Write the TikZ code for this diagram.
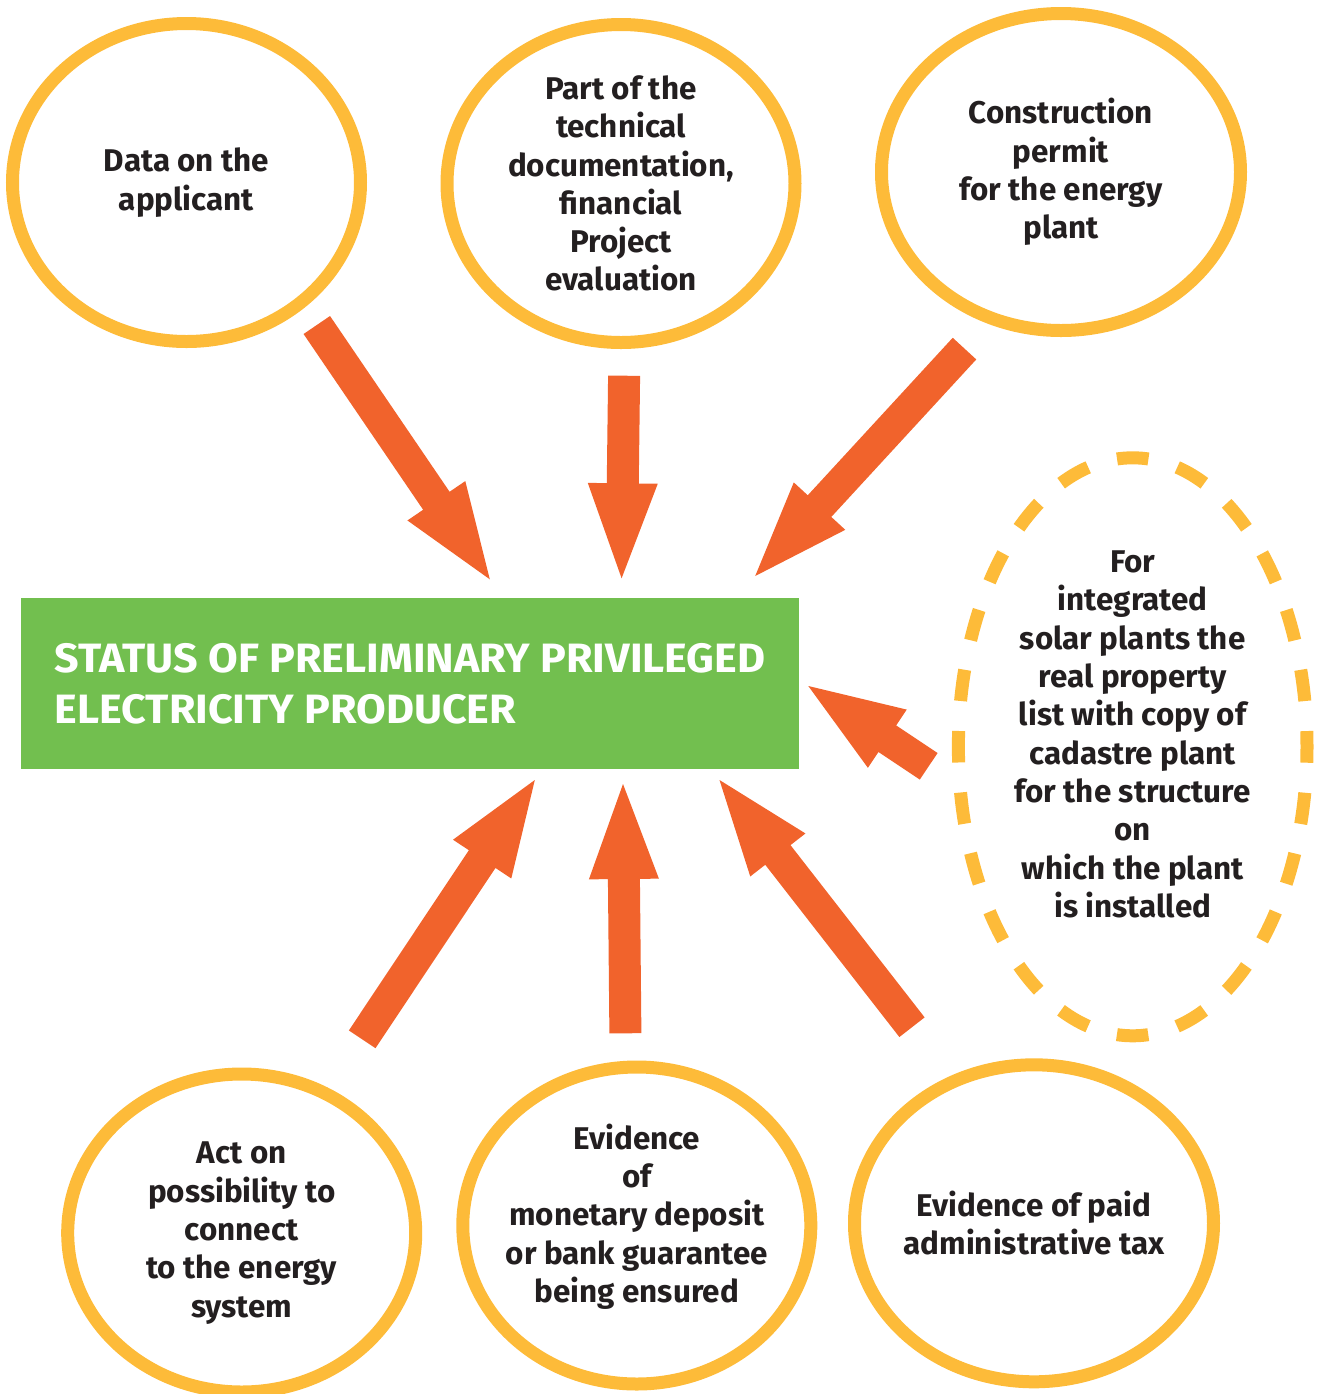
\documentclass[tikz,border=0pt]{standalone}
\usepackage{fontspec}
\setmainfont{Fira Sans}
\newfontfamily\titlefont[FakeStretch=1.05]{Fira Sans}
\usetikzlibrary{shapes.geometric, calc}
\definecolor{ringYellow}{RGB}{253,187,57}
\definecolor{arrOrange}{RGB}{241,99,44}
\definecolor{statusGreen}{RGB}{114,191,79}
\definecolor{textDark}{RGB}{35,31,32}
\tikzset{
  reqBubble/.style={ellipse, draw=ringYellow, line width=6.5pt, minimum width=174pt, minimum height=159pt, inner sep=0pt},
  reqDashed/.style={reqBubble, dash pattern=on 15.75pt off 15.04pt, dash phase=7.875pt},
  reqText/.style={align=center, text=textDark, inner sep=0pt, font=\fontsize{15.7}{19.15}\selectfont\bfseries},
  statusBox/.style={rectangle, fill=statusGreen, minimum width=389pt, minimum height=85.5pt, align=left, text=white, inner sep=0pt, font=\titlefont\fontsize{20.5}{25.35}\selectfont\bfseries},
  bigArr/.style={fill=arrOrange},
}
% block arrow from tail #1 to tip #2
\newcommand{\bigArrow}[2]{%
  \coordinate (ah) at ($(#2)!47.5pt!(#1)$);
  \fill [bigArr] ($(#1)!8pt!90:(#2)$) -- ($(ah)!8pt!-90:(#1)$) -- ($(ah)!17.5pt!-90:(#1)$)
    -- (#2) -- ($(ah)!17.5pt!90:(#1)$) -- ($(ah)!8pt!90:(#1)$) -- ($(#1)!8pt!-90:(#2)$) -- cycle;
}

\begin{document}
\begin{tikzpicture}[x=0.5pt, y=-0.5pt]
\useasboundingbox (0,0) rectangle (1319,1394);

% Central status
\node (status) [statusBox] at (410,683.5) {STATUS OF PRELIMINARY PRIVILEGED\\ELECTRICITY PRODUCER};

% Top requirements
\node (appl) [reqBubble] at (186.5,182.5) {};
\node (techDoc) [reqBubble] at (621,183.5) {};
\node (permit) [reqBubble, minimum width=179.5pt, minimum height=158.5pt] at (1061,172) {};
\node (applTxt) [reqText] at (appl) {Data on the\\applicant};
\node (techDocTxt) [reqText] at (techDoc) {Part of the\\technical\\documentation,\\financial\\Project\\evaluation};
\node (permitTxt) [reqText] at (permit) {Construction\\permit\\for the energy\\plant};

% Right requirement (dashed)
\node (solar) [reqDashed, minimum width=174.3pt, minimum height=289pt] at (1132.7,746.8) {};
\node (solarTxt) [reqText] at ($(solar)+(0,-12.4)$) {For\\integrated\\solar plants the\\real property\\list with copy of\\cadastre plant\\for the structure\\on\\which the plant\\is installed};

% Bottom requirements
\node (grid) [reqBubble] at (241.7,1233) {};
\node (deposit) [reqBubble, minimum height=158.5pt] at (636.8,1225.5) {};
\node (taxPaid) [reqBubble, minimum width=179.5pt, minimum height=158.5pt] at (1034,1223.3) {};
\node (gridTxt) [reqText] at (grid) {Act on\\possibility to\\connect\\to the energy\\system};
\node (depositTxt) [reqText] at ($(deposit)+(0,-9)$) {Evidence\\of\\monetary deposit\\or bank guarantee\\being ensured};
\node (taxPaidTxt) [reqText] at (taxPaid) {Evidence of paid\\administrative tax};

% Arrow ends
\coordinate (applOut) at (316.8,325);      \coordinate (applIn) at (489.8,579.3);
\coordinate (techDocOut) at (624.1,375.7); \coordinate (techDocIn) at (621.6,578.3);
\coordinate (permitOut) at (964.5,348.6);  \coordinate (permitIn) at (755.2,576);
\coordinate (solarOut) at (928.7,766.3);   \coordinate (solarIn) at (808.3,686);
\coordinate (gridOut) at (362.2,1039.3);   \coordinate (gridIn) at (534.8,780);
\coordinate (depositOut) at (625.4,1033.3);\coordinate (depositIn) at (623,784);
\coordinate (taxPaidOut) at (912,1027.2);  \coordinate (taxPaidIn) at (719.5,780);

\bigArrow{applOut}{applIn}
\bigArrow{techDocOut}{techDocIn}
\bigArrow{permitOut}{permitIn}
\bigArrow{solarOut}{solarIn}
\bigArrow{gridOut}{gridIn}
\bigArrow{depositOut}{depositIn}
\bigArrow{taxPaidOut}{taxPaidIn}
\end{tikzpicture}
\end{document}
